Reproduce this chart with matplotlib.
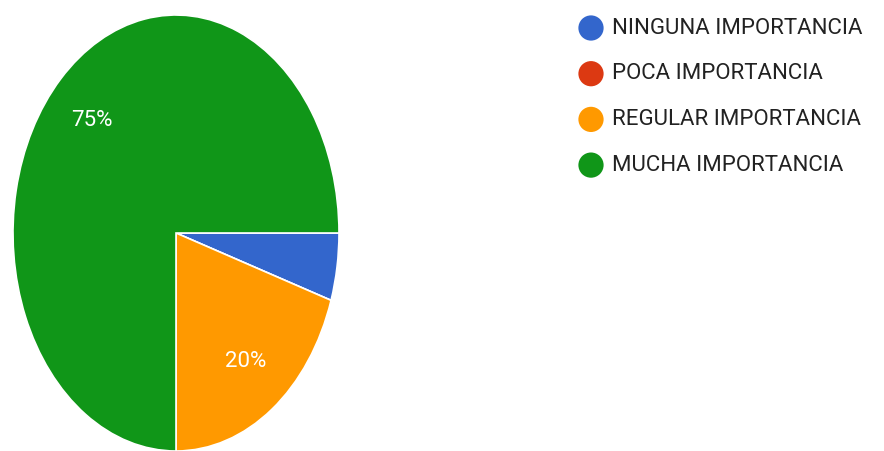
import matplotlib.pyplot as plt

plt.rcParams['font.family'] = ['Roboto', 'DejaVu Sans']

# datos de la encuesta
categorias = ['NINGUNA IMPORTANCIA', 'POCA IMPORTANCIA',
              'REGULAR IMPORTANCIA', 'MUCHA IMPORTANCIA']
porcentajes = [5, 0, 20, 75]
colores = ['#3366CC', '#DC3912', '#FF9900', '#109618']

W, H = 884, 451
fig = plt.figure(figsize=(W / 100, H / 100), dpi=100)

# pastel (estirado en vertical, como en la captura original)
ax = fig.add_axes([13 / W, 0, 326 / W, 436 / H])


def etiqueta(pct):
    # las porciones pequeñas no llevan texto
    return f'{pct:.0f}%' if pct >= 10 else ''


wedges, textos, autotextos = ax.pie(
    porcentajes, colors=colores, startangle=0, counterclock=False,
    autopct=etiqueta, pctdistance=0.73, radius=1,
    wedgeprops=dict(edgecolor='white', linewidth=1.2),
    textprops=dict(color='white', fontsize=16))
ax.set_aspect('auto')
ax.set_xlim(-1, 1)
ax.set_ylim(-1, 1)

# leyenda dibujada a mano en coordenadas de pixel
lax = fig.add_axes([0, 0, 1, 1])
lax.set_xlim(0, W)
lax.set_ylim(H, 0)
lax.axis('off')
y0, paso = 28, 45.7
for i, (cat, col) in enumerate(zip(categorias, colores)):
    y = y0 + i * paso
    lax.scatter([591], [y], s=330, color=col, edgecolors='none')
    lax.text(612, y, cat, fontsize=16, color='#222222', va='center', ha='left')

fig.savefig('out.png', dpi=100)
